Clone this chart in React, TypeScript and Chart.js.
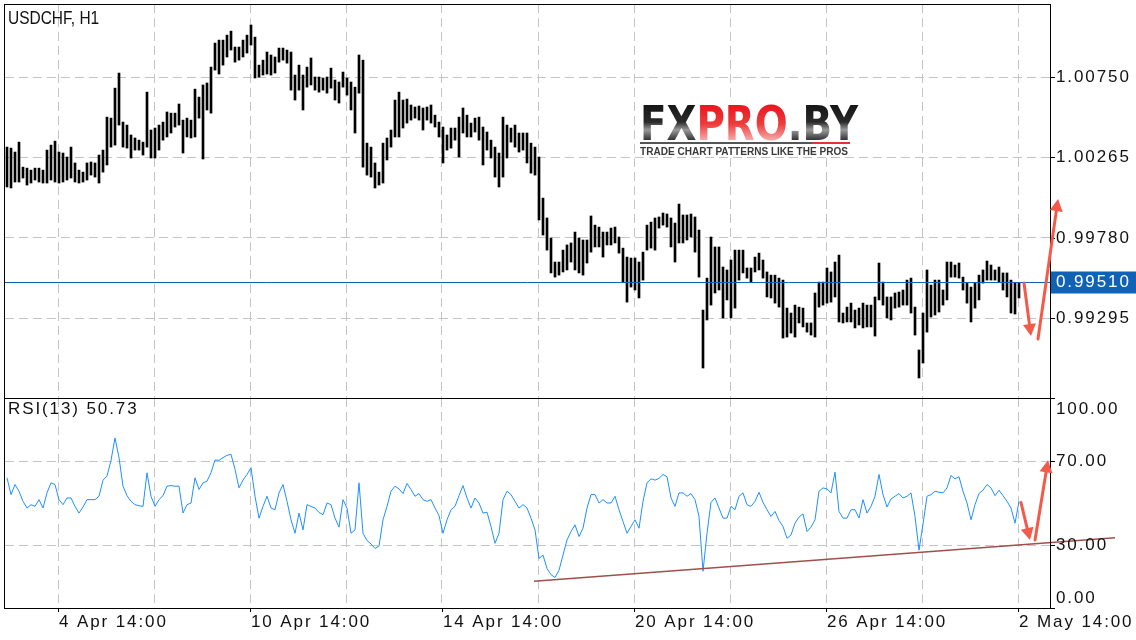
import React, { useEffect, useRef } from "react";
import { Chart, registerables } from "chart.js";

Chart.register(...registerables);

// ---- data (2-hour bars) ----
const highs = [
  1.00327, 1.00321, 1.00297, 1.00357, 1.00206, 1.00200, 1.00188, 1.00200, 1.00200, 1.00188,
  1.00309, 1.00339, 1.00363, 1.00297, 1.00291, 1.00267, 1.00327, 1.00231, 1.00188, 1.00176,
  1.00231, 1.00237, 1.00231, 1.00279, 1.00309, 1.00508, 1.00502, 1.00683, 1.00774, 1.00478,
  1.00460, 1.00400, 1.00382, 1.00369, 1.00357, 1.00659, 1.00430, 1.00442, 1.00460, 1.00478,
  1.00539, 1.00532, 1.00532, 1.00587, 1.00490, 1.00502, 1.00490, 1.00677, 1.00629, 1.00702,
  1.00714, 1.00810, 1.00955, 1.00973, 1.00973, 1.01003, 1.01027, 1.00931, 1.00931, 1.00973,
  1.01003, 1.01064, 1.00991, 1.00822, 1.00852, 1.00901, 1.00883, 1.00871, 1.00925, 1.00925,
  1.00913, 1.00901, 1.00762, 1.00822, 1.00762, 1.00810, 1.00865, 1.00750, 1.00750, 1.00744,
  1.00750, 1.00804, 1.00732, 1.00720, 1.00780, 1.00744, 1.00720, 1.00689, 1.00883, 1.00852,
  1.00351, 1.00327, 1.00231, 1.00176, 1.00351, 1.00382, 1.00430, 1.00611, 1.00659, 1.00611,
  1.00617, 1.00581, 1.00569, 1.00575, 1.00563, 1.00569, 1.00581, 1.00520, 1.00478, 1.00448,
  1.00400, 1.00442, 1.00442, 1.00508, 1.00563, 1.00520, 1.00472, 1.00502, 1.00508, 1.00448,
  1.00418, 1.00369, 1.00327, 1.00291, 1.00508, 1.00460, 1.00442, 1.00460, 1.00412, 1.00412,
  1.00412, 1.00351, 1.00327, 1.00267, 1.00019, 0.99899, 0.99778, 0.99633, 0.99633, 0.99705,
  0.99736, 0.99748, 0.99814, 0.99778, 0.99766, 0.99766, 0.99911, 0.99856, 0.99844, 0.99814,
  0.99814, 0.99838, 0.99844, 0.99784, 0.99717, 0.99663, 0.99657, 0.99657, 0.99633, 0.99693,
  0.99856, 0.99874, 0.99899, 0.99905, 0.99929, 0.99923, 0.99899, 0.99868, 0.99983, 0.99917,
  0.99917, 0.99923, 0.99905, 0.99826, 0.99343, 0.99536, 0.99784, 0.99724, 0.99724, 0.99603,
  0.99585, 0.99645, 0.99705, 0.99705, 0.99705, 0.99597, 0.99597, 0.99663, 0.99687, 0.99645,
  0.99573, 0.99554, 0.99554, 0.99536, 0.99524, 0.99355, 0.99325, 0.99373, 0.99361, 0.99355,
  0.99265, 0.99265, 0.99446, 0.99512, 0.99512, 0.99597, 0.99573, 0.99633, 0.99675, 0.99325,
  0.99361, 0.99385, 0.99343, 0.99355, 0.99385, 0.99373, 0.99373, 0.99422, 0.99627, 0.99512,
  0.99422, 0.99422, 0.99446, 0.99452, 0.99464, 0.99524, 0.99536, 0.99361, 0.99102, 0.99325,
  0.99585, 0.99494, 0.99524, 0.99524, 0.99464, 0.99633, 0.99633, 0.99615, 0.99627, 0.99542,
  0.99506, 0.99482, 0.99506, 0.99554, 0.99585, 0.99639, 0.99615, 0.99585, 0.99603, 0.99567,
  0.99567, 0.99524, 0.99506, 0.99506,
];

const lows = [
  1.00086, 1.00080, 1.00116, 1.00116, 1.00140, 1.00098, 1.00110, 1.00128, 1.00116, 1.00110,
  1.00110, 1.00128, 1.00116, 1.00110, 1.00116, 1.00128, 1.00140, 1.00116, 1.00110, 1.00116,
  1.00128, 1.00158, 1.00146, 1.00110, 1.00176, 1.00219, 1.00327, 1.00339, 1.00460, 1.00327,
  1.00321, 1.00261, 1.00309, 1.00309, 1.00279, 1.00327, 1.00261, 1.00261, 1.00309, 1.00369,
  1.00388, 1.00412, 1.00448, 1.00460, 1.00291, 1.00388, 1.00382, 1.00388, 1.00502, 1.00255,
  1.00551, 1.00532, 1.00792, 1.00768, 1.00822, 1.00871, 1.00913, 1.00840, 1.00852, 1.00871,
  1.00895, 1.00943, 1.00744, 1.00750, 1.00762, 1.00768, 1.00762, 1.00774, 1.00840, 1.00852,
  1.00834, 1.00671, 1.00611, 1.00671, 1.00551, 1.00689, 1.00702, 1.00671, 1.00659, 1.00671,
  1.00653, 1.00683, 1.00611, 1.00593, 1.00689, 1.00641, 1.00551, 1.00412, 1.00653, 1.00206,
  1.00158, 1.00146, 1.00080, 1.00098, 1.00110, 1.00249, 1.00327, 1.00388, 1.00388, 1.00442,
  1.00472, 1.00490, 1.00502, 1.00490, 1.00430, 1.00490, 1.00472, 1.00448, 1.00388, 1.00231,
  1.00309, 1.00321, 1.00369, 1.00267, 1.00412, 1.00388, 1.00388, 1.00418, 1.00369, 1.00219,
  1.00309, 1.00261, 1.00146, 1.00086, 1.00146, 1.00261, 1.00357, 1.00327, 1.00297, 1.00309,
  1.00231, 1.00170, 1.00158, 0.99887, 0.99796, 0.99705, 0.99567, 0.99542, 0.99554, 0.99573,
  0.99585, 0.99633, 0.99585, 0.99567, 0.99554, 0.99627, 0.99693, 0.99724, 0.99724, 0.99663,
  0.99736, 0.99736, 0.99748, 0.99687, 0.99512, 0.99391, 0.99482, 0.99464, 0.99416, 0.99524,
  0.99705, 0.99717, 0.99705, 0.99838, 0.99856, 0.99844, 0.99724, 0.99633, 0.99748, 0.99748,
  0.99766, 0.99784, 0.99693, 0.99542, 0.98993, 0.99283, 0.99373, 0.99446, 0.99464, 0.99295,
  0.99404, 0.99295, 0.99355, 0.99524, 0.99567, 0.99536, 0.99512, 0.99573, 0.99585, 0.99536,
  0.99422, 0.99416, 0.99385, 0.99361, 0.99174, 0.99180, 0.99204, 0.99180, 0.99265, 0.99241,
  0.99210, 0.99192, 0.99180, 0.99361, 0.99373, 0.99385, 0.99391, 0.99422, 0.99271, 0.99265,
  0.99271, 0.99271, 0.99235, 0.99253, 0.99235, 0.99241, 0.99241, 0.99186, 0.99404, 0.99373,
  0.99295, 0.99283, 0.99355, 0.99361, 0.99373, 0.99373, 0.99325, 0.99192, 0.98933, 0.99023,
  0.99210, 0.99301, 0.99313, 0.99331, 0.99373, 0.99404, 0.99542, 0.99542, 0.99536, 0.99464,
  0.99385, 0.99271, 0.99355, 0.99404, 0.99506, 0.99524, 0.99524, 0.99524, 0.99512, 0.99464,
  0.99422, 0.99325, 0.99319, 0.99416,
];

const rsi = [
  62.0, 54.0, 58.8, 55.6, 50.8, 47.6, 49.2, 48.4, 51.6, 47.6,
  54.8, 59.6, 58.8, 51.6, 49.2, 52.4, 52.4, 48.4, 45.2, 48.1,
  51.6, 51.6, 51.6, 53.2, 60.9, 62.8, 70.3, 81.0, 71.6, 58.0,
  53.5, 50.8, 49.2, 48.7, 48.4, 64.4, 53.2, 48.4, 51.6, 53.5,
  58.0, 58.3, 58.0, 58.0, 45.2, 49.2, 50.0, 62.0, 56.4, 59.6,
  60.4, 64.4, 70.5, 70.3, 71.6, 72.7, 73.2, 66.0, 57.2, 60.9,
  63.6, 66.8, 53.2, 42.8, 48.4, 53.2, 47.6, 46.8, 54.8, 58.8,
  50.8, 42.0, 35.6, 45.2, 37.2, 49.2, 48.4, 47.6, 45.5, 44.4,
  50.0, 49.2, 42.8, 38.5, 51.6, 47.6, 35.6, 37.2, 59.6, 35.6,
  32.1, 30.5, 28.4, 29.5, 42.0, 48.4, 55.6, 58.0, 56.7, 54.5,
  59.3, 56.4, 53.2, 54.5, 51.6, 50.8, 51.6, 47.6, 44.0, 35.6,
  42.0, 46.8, 48.4, 53.5, 58.3, 52.4, 47.6, 52.4, 50.0, 45.2,
  45.6, 38.8, 30.8, 35.6, 51.6, 55.6, 54.0, 50.8, 47.6, 49.2,
  47.6, 42.8, 37.2, 23.6, 25.2, 18.8, 15.9, 14.5, 18.0, 25.2,
  32.4, 36.4, 39.6, 34.0, 38.0, 47.6, 54.0, 54.0, 50.0, 51.6,
  50.0, 50.0, 53.2, 46.8, 41.2, 35.6, 38.8, 42.0, 38.0, 50.8,
  59.6, 61.5, 60.9, 61.7, 63.6, 62.5, 52.4, 48.4, 54.8, 54.8,
  53.2, 54.5, 51.6, 43.6, 17.5, 35.6, 50.3, 52.4, 47.6, 42.8,
  42.8, 48.4, 46.8, 53.2, 54.8, 49.2, 48.4, 50.8, 55.1, 50.3,
  46.8, 43.6, 46.0, 41.7, 38.8, 33.2, 34.8, 40.4, 43.3, 44.8,
  36.4, 38.5, 42.0, 55.6, 57.2, 56.7, 54.8, 64.7, 46.0, 42.8,
  42.8, 46.8, 46.8, 42.8, 51.6, 45.2, 48.4, 53.2, 63.6, 54.0,
  48.1, 51.9, 53.2, 54.5, 52.4, 53.2, 54.8, 43.6, 27.5, 40.0,
  53.2, 54.0, 55.6, 55.1, 54.8, 57.2, 63.1, 61.5, 62.5, 55.6,
  50.0, 42.0, 49.2, 54.5, 56.1, 58.8, 57.2, 53.5, 56.1, 53.5,
  50.8, 47.6, 40.4, 50.73,
];

// time axis: hours of trading time counted from "4 Apr 14:00"
const firstBarHour = -25.5;
const barStepHours = 2;
const hourMin = -26.5;
const hourMax = 496;
const xGridHours = [0, 48, 96, 144, 192, 240, 288, 336, 384, 432, 480];
const xLabelHours = [0, 96, 192, 288, 384, 480];
const xLabels = ["4 Apr 14:00", "10 Apr 14:00", "14 Apr 14:00", "20 Apr 14:00", "26 Apr 14:00", "2 May 14:00"];

const priceMin = 0.98812;
const priceMax = 1.01191;
const priceTicks = [0.99295, 0.9978, 1.00265, 1.0075];
const priceLabels = ["0.99295", "0.99780", "1.00265", "1.00750"];
const lastPrice = 0.9951;
const lastPriceLabel = "0.99510";

const rsiTicks = [0, 30, 70, 100];
const rsiLabels = ["0.00", "30.00", "70.00", "100.00"];
const rsiTitle = "RSI(13) 50.73";
const chartTitle = "USDCHF, H1";

// annotations (hour, value)
const priceArrowDown = [[483, 0.99506], [486.5, 0.99186]];
const priceArrowUp = [[490, 0.99168], [500, 1.00013]];
const rsiArrowDown = [[481.5, 50.2], [486, 32.4]];
const rsiArrowUp = [[488.5, 32.4], [495, 70.3]];
const rsiTrend = [[238, 12.7], [528.5, 33.4]];

// ---- styles ----
const FONT = '"Liberation Sans", Arial, Helvetica, sans-serif';
const LABEL_FONT = `17px ${FONT}`;
const SPACING = 1.9;
const GRID = "#c4c4c4";
const DASH = [9, 5];
const BLUE = "#0f62b4";
const ARROW = "#f45a4a";
const AXIS_W = 86;

function drawSpaced(ctx: CanvasRenderingContext2D, text: string, x: number, y: number, sp: number) {
  let cx = x;
  for (const ch of text) {
    ctx.fillText(ch, cx, y);
    cx += ctx.measureText(ch).width + sp;
  }
}

function drawArrow(ctx: CanvasRenderingContext2D, x1: number, y1: number, x2: number, y2: number) {
  const ang = Math.atan2(y2 - y1, x2 - x1);
  const len = 12, hw = 6.5;
  const c = Math.cos(ang), s = Math.sin(ang);
  ctx.save();
  ctx.strokeStyle = ARROW;
  ctx.fillStyle = ARROW;
  ctx.lineWidth = 3;
  ctx.lineCap = "round";
  ctx.beginPath();
  ctx.moveTo(x1, y1);
  ctx.lineTo(x2 - c * len * 0.7, y2 - s * len * 0.7);
  ctx.stroke();
  ctx.beginPath();
  ctx.moveTo(x2, y2);
  ctx.lineTo(x2 - c * len - s * hw, y2 - s * len + c * hw);
  ctx.lineTo(x2 - c * len + s * hw, y2 - s * len - c * hw);
  ctx.closePath();
  ctx.fill();
  ctx.restore();
}

function drawLogo(ctx: CanvasRenderingContext2D) {
  ctx.save();
  ctx.fillStyle = "#fff";
  ctx.fillRect(636, 100, 226, 57);
  ctx.font = `bold 48px "DejaVu Sans", ${FONT}`;
  ctx.textBaseline = "alphabetic";
  const parts: [string, string][] = [["FX", "dark"], ["PRO", "red"], [".BY", "dark"]];
  const widths = parts.map((p) => ctx.measureText(p[0]).width);
  const total = widths.reduce((a, b) => a + b, 0);
  const sx = 218 / total;
  ctx.translate(640, 140);
  ctx.scale(sx, 1);
  let cx = 0;
  parts.forEach((p, i) => {
    const g = ctx.createLinearGradient(0, -36, 0, 0);
    if (p[1] === "dark") {
      g.addColorStop(0, "#151515");
      g.addColorStop(0.5, "#2a2a2a");
      g.addColorStop(0.72, "#9a9a9a");
      g.addColorStop(1, "#333");
    } else {
      g.addColorStop(0, "#e8141e");
      g.addColorStop(0.55, "#ee3b3b");
      g.addColorStop(1, "#f6a9a9");
    }
    ctx.fillStyle = g;
    ctx.fillText(p[0], cx, 0);
    cx += widths[i];
  });
  ctx.restore();
  ctx.save();
  ctx.lineWidth = 2;
  ctx.strokeStyle = "#555";
  ctx.beginPath();
  ctx.moveTo(640, 143);
  ctx.lineTo(812, 143);
  ctx.stroke();
  ctx.strokeStyle = "#e8303a";
  ctx.beginPath();
  ctx.moveTo(812, 143);
  ctx.lineTo(850, 143);
  ctx.stroke();
  ctx.font = `bold 11px ${FONT}`;
  ctx.fillStyle = "#3a3a3a";
  ctx.textBaseline = "alphabetic";
  const t = "TRADE CHART PATTERNS LIKE THE PROS";
  const w = ctx.measureText(t).width;
  ctx.translate(640, 155);
  ctx.scale(208 / w, 1);
  ctx.fillText(t, 0, 0);
  ctx.restore();
}

function xScale(height: number) {
  return {
    type: "linear" as const,
    min: hourMin,
    max: hourMax,
    offset: false,
    afterBuildTicks: (s: any) => {
      s.ticks = xGridHours.map((v) => ({ value: v }));
    },
    afterFit: (s: any) => {
      s.height = height;
    },
    ticks: { display: false },
    grid: { color: GRID, lineWidth: 1, drawTicks: false, offset: false },
    border: { display: false, dash: DASH },
  };
}

export default function App() {
  const r1 = useRef<HTMLCanvasElement>(null);
  const r2 = useRef<HTMLCanvasElement>(null);

  useEffect(() => {
    const hours = highs.map((_, i) => firstBarHour + i * barStepHours);
    const bars = hours.map((h, i) => ({ x: h, y: [lows[i], highs[i]] }));
    const rsiPts = hours.map((h, i) => ({ x: h, y: rsi[i] }));

    const mainPlugin = {
      id: "mainDecor",
      afterDatasetsDraw(chart: any) {
        const { ctx, chartArea: a, scales } = chart;
        drawLogo(ctx);
        const py = Math.round(scales.y.getPixelForValue(lastPrice)) + 0.5;
        ctx.save();
        ctx.strokeStyle = BLUE;
        ctx.lineWidth = 1;
        ctx.beginPath();
        ctx.moveTo(a.left, py);
        ctx.lineTo(a.right, py);
        ctx.stroke();
        ctx.restore();
      },
      afterDraw(chart: any) {
        const { ctx, chartArea: a, scales } = chart;
        const x = scales.x, y = scales.y;
        ctx.save();
        ctx.strokeStyle = "#000";
        ctx.lineWidth = 1;
        ctx.strokeRect(4.5, a.top + 0.5, a.right - 4, a.bottom - a.top);
        // right axis labels + ticks
        ctx.font = LABEL_FONT;
        ctx.fillStyle = "#111";
        ctx.textBaseline = "middle";
        priceTicks.forEach((v, i) => {
          const py = Math.round(y.getPixelForValue(v)) + 0.5;
          ctx.beginPath();
          ctx.moveTo(a.right, py);
          ctx.lineTo(a.right + 5, py);
          ctx.stroke();
          drawSpaced(ctx, priceLabels[i], a.right + 6, py, SPACING);
        });
        // last price box
        const lp = Math.round(y.getPixelForValue(lastPrice)) + 0.5;
        ctx.fillStyle = BLUE;
        ctx.fillRect(a.right + 1, lp - 11, 1136 - a.right - 1, 22);
        ctx.fillStyle = "#fff";
        drawSpaced(ctx, lastPriceLabel, a.right + 6, lp, SPACING);
        // title
        ctx.fillStyle = "#111";
        ctx.save();
        ctx.translate(8, 19.5);
        ctx.scale(0.86, 1);
        ctx.font = `18px ${FONT}`;
        ctx.fillText(chartTitle, 0, 0);
        ctx.restore();
        ctx.restore();
        // arrows
        const pa = (p: number[]) => [x.getPixelForValue(p[0]), y.getPixelForValue(p[1])];
        const d1 = priceArrowDown.map(pa), u1 = priceArrowUp.map(pa);
        drawArrow(ctx, d1[0][0], d1[0][1], d1[1][0], d1[1][1]);
        drawArrow(ctx, u1[0][0], u1[0][1], u1[1][0], u1[1][1]);
      },
    };

    const rsiPlugin = {
      id: "rsiDecor",
      afterDraw(chart: any) {
        const { ctx, chartArea: a, scales } = chart;
        const x = scales.x, y = scales.y;
        ctx.save();
        // trend line
        const t0 = [x.getPixelForValue(rsiTrend[0][0]), y.getPixelForValue(rsiTrend[0][1])];
        const t1 = [x.getPixelForValue(rsiTrend[1][0]), y.getPixelForValue(rsiTrend[1][1])];
        ctx.strokeStyle = "#a0504c";
        ctx.lineWidth = 1.5;
        ctx.beginPath();
        ctx.moveTo(t0[0], t0[1]);
        ctx.lineTo(t1[0], t1[1]);
        ctx.stroke();
        // border
        ctx.strokeStyle = "#000";
        ctx.lineWidth = 1;
        ctx.strokeRect(4.5, a.top + 0.5, a.right - 4, a.bottom - a.top);
        ctx.font = LABEL_FONT;
        ctx.fillStyle = "#111";
        ctx.textBaseline = "middle";
        rsiTicks.forEach((v, i) => {
          const py = Math.round(y.getPixelForValue(v)) + 0.5;
          ctx.beginPath();
          ctx.moveTo(a.right, py);
          ctx.lineTo(a.right + 5, py);
          ctx.stroke();
          let ly = py;
          if (v === 100) ly = py + 11.2;
          if (v === 0) ly = py - 10.5;
          drawSpaced(ctx, rsiLabels[i], a.right + 6, ly, SPACING);
        });
        // x labels
        xLabelHours.forEach((h, i) => {
          const px = Math.round(x.getPixelForValue(h)) + 0.5;
          ctx.beginPath();
          ctx.moveTo(px, a.bottom);
          ctx.lineTo(px, a.bottom + 4);
          ctx.stroke();
          drawSpaced(ctx, xLabels[i], px + 0.5, a.bottom + 14.5, SPACING);
        });
        drawSpaced(ctx, rsiTitle, 8, a.top + 11.7, SPACING);
        ctx.restore();
        const pa = (p: number[]) => [x.getPixelForValue(p[0]), y.getPixelForValue(p[1])];
        const d1 = rsiArrowDown.map(pa), u1 = rsiArrowUp.map(pa);
        drawArrow(ctx, d1[0][0], d1[0][1], d1[1][0], d1[1][1]);
        drawArrow(ctx, u1[0][0], u1[0][1], u1[1][0], u1[1][1]);
      },
    };

    const c1 = new Chart(r1.current as HTMLCanvasElement, {
      type: "bar",
      data: {
        datasets: [
          {
            data: bars as any,
            backgroundColor: "#000",
            borderWidth: 0,
            barThickness: 2,
          } as any,
        ],
      },
      options: {
        animation: false,
        responsive: false,
        devicePixelRatio: 1,
        layout: { padding: { left: 5, top: 4, right: 0, bottom: 2 } },
        plugins: { legend: { display: false }, tooltip: { enabled: false } },
        scales: {
          x: xScale(0) as any,
          y: {
            type: "linear",
            position: "right",
            min: priceMin,
            max: priceMax,
            afterBuildTicks: (s: any) => {
              s.ticks = priceTicks.map((v) => ({ value: v }));
            },
            afterFit: (s: any) => {
              s.width = AXIS_W;
            },
            ticks: { display: false },
            grid: { color: GRID, drawTicks: false },
            border: { display: false, dash: DASH },
          } as any,
        },
      },
      plugins: [mainPlugin],
    });

    const c2 = new Chart(r2.current as HTMLCanvasElement, {
      type: "line",
      data: {
        datasets: [
          {
            data: rsiPts as any,
            borderColor: "#1e90ff",
            borderWidth: 1,
            pointRadius: 0,
            tension: 0,
            fill: false,
          },
        ],
      },
      options: {
        animation: false,
        responsive: false,
        devicePixelRatio: 1,
        layout: { padding: { left: 5, top: 0, right: 0, bottom: 0 } },
        plugins: { legend: { display: false }, tooltip: { enabled: false } },
        scales: {
          x: xScale(30) as any,
          y: {
            type: "linear",
            position: "right",
            min: 0,
            max: 100,
            afterBuildTicks: (s: any) => {
              s.ticks = rsiTicks.map((v) => ({ value: v }));
            },
            afterFit: (s: any) => {
              s.width = AXIS_W;
            },
            ticks: { display: false },
            grid: {
              drawTicks: false,
              color: (c: any) =>
                c.tick && (c.tick.value === 30 || c.tick.value === 70) ? GRID : "rgba(0,0,0,0)",
            },
            border: { display: false, dash: DASH },
          } as any,
        },
      },
      plugins: [rsiPlugin],
    });

    return () => {
      c1.destroy();
      c2.destroy();
    };
  }, []);

  return (
    <div style={{ position: "absolute", left: 0, top: 0, width: 1136, height: 640, background: "#fff" }}>
      <canvas
        ref={r1}
        width={1136}
        height={400}
        style={{ position: "absolute", left: 0, top: 0, width: 1136, height: 400 }}
      />
      <canvas
        ref={r2}
        width={1136}
        height={240}
        style={{ position: "absolute", left: 0, top: 398, width: 1136, height: 240 }}
      />
    </div>
  );
}
